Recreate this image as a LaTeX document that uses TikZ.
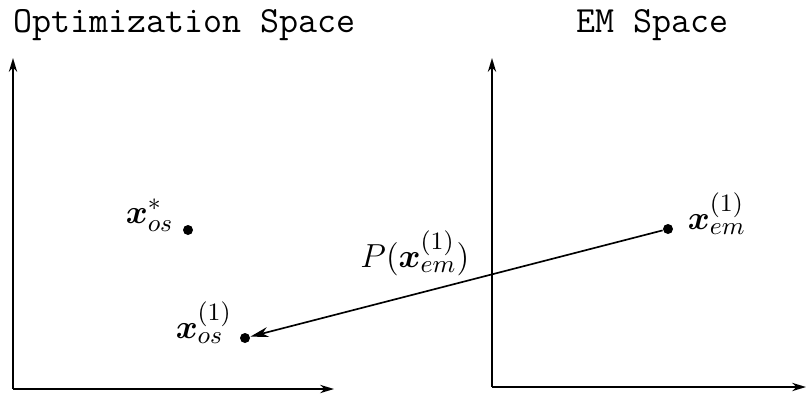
\documentclass[tikz,border=0pt]{standalone}
\usepackage{amsmath, amssymb, bm}
\usetikzlibrary{arrows.meta, positioning}
\tikzset{
  axis/.style={-{Stealth[length=5pt, width=3pt, inset=1.6pt]}, line width=0.6pt},
  dotpt/.style={circle, fill=black, inner sep=0pt, minimum size=3.6pt},
  lbl/.style={font=\fontsize{13}{15}\selectfont, inner sep=0pt},
  spacetitle/.style={font=\fontsize{13.3}{15}\selectfont\ttfamily, anchor=base west, inner sep=0pt},
  maparrow/.style={-{Stealth[length=6.5pt, width=3.6pt, inset=2pt]}, line width=0.6pt},
}

\begin{document}
\begin{tikzpicture}[x=0.36pt, y=-0.36pt]
\useasboundingbox (0,0) rectangle (806,395);

% axes of the two spaces
\coordinate (os0) at (13,389);
\coordinate (osy) at (13,58);
\coordinate (osx) at (334,389);
\coordinate (em0) at (492,387);
\coordinate (emy) at (492,58);
\coordinate (emx) at (806,387);
\draw[axis] (os0) -- (osy);
\draw[axis] (os0) -- (osx);
\draw[axis] (em0) -- (emy);
\draw[axis] (em0) -- (emx);

\node[spacetitle] (ostitle) at (13,32) {Optimization Space};
\node[spacetitle] (emtitle) at (576,32) {EM Space};

% points
\node[dotpt] (osstar) at (188,230) {};
\node[dotpt] (os1) at (245,338) {};
\node[dotpt] (em1) at (668,229) {};

\node[lbl, left=3pt of osstar, anchor=base east, yshift=2.5pt] (osstarlbl) {$\boldsymbol{x}_{os}^{*}$};
\node[lbl, left=2.5pt of os1, anchor=base east] (os1lbl) {$\boldsymbol{x}_{os}^{(1)}$};
\node[lbl, right=5pt of em1, anchor=base west] (em1lbl) {$\boldsymbol{x}_{em}^{(1)}$};

\draw[maparrow] (em1) -- node[lbl, pos=0.46, anchor=south east, inner sep=1pt] (maplbl) {$P(\boldsymbol{x}_{em}^{(1)})$} (os1);
\end{tikzpicture}
\end{document}
